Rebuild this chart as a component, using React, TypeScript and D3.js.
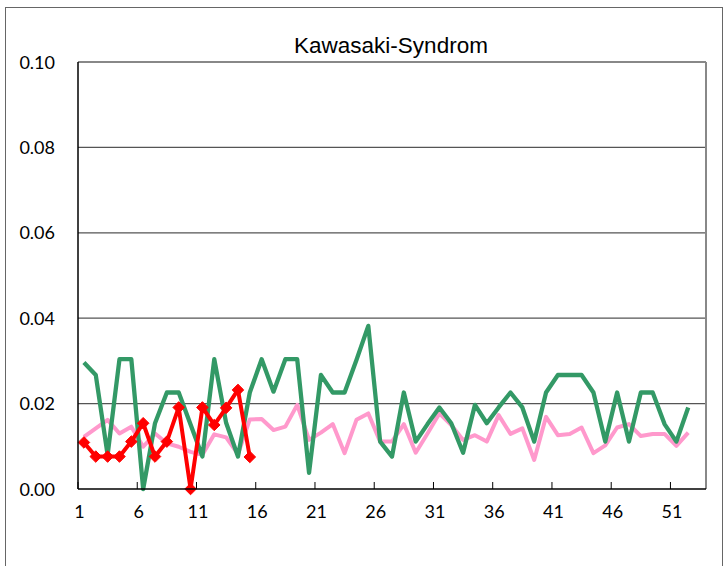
import React from "react";
import * as d3 from "d3";

const weeks = d3.range(1, 53);
const xTickLabels = [1, 6, 11, 16, 21, 26, 31, 36, 41, 46, 51];
const yTicks = [0, 0.02, 0.04, 0.06, 0.08, 0.1];

const pinkValues = [
  0.0122, 0.0142, 0.0162, 0.013, 0.0146, 0.0099, 0.013, 0.0107, 0.0099, 0.0087,
  0.008, 0.0128, 0.0121, 0.0082, 0.0163, 0.0164, 0.0138, 0.0146, 0.0197, 0.0115,
  0.0132, 0.0152, 0.0084, 0.0162, 0.0177, 0.0111, 0.0111, 0.0152, 0.0085, 0.013,
  0.0177, 0.015, 0.0115, 0.0126, 0.0111, 0.0173, 0.0129, 0.0142, 0.0068, 0.0169,
  0.0126, 0.0129, 0.0144, 0.0084, 0.0102, 0.0144, 0.0152, 0.0124, 0.0129, 0.0129,
  0.0101, 0.0132,
];

const greenValues = [
  0.0296, 0.0267, 0.008, 0.0304, 0.0304, 0.0, 0.0154, 0.0226, 0.0226, 0.0151,
  0.0076, 0.0304, 0.0155, 0.0076, 0.0226, 0.0304, 0.0228, 0.0304, 0.0304, 0.0038,
  0.0267, 0.0226, 0.0226, 0.0302, 0.0382, 0.0111, 0.0076, 0.0226, 0.0111, 0.0152,
  0.0191, 0.0154, 0.0085, 0.0197, 0.0154, 0.0191, 0.0226, 0.0191, 0.0111, 0.0226,
  0.0267, 0.0267, 0.0267, 0.0226, 0.0111, 0.0226, 0.0111, 0.0226, 0.0226, 0.0152,
  0.0111, 0.0191,
];

const redValues = [
  0.0109, 0.0076, 0.0076, 0.0076, 0.0111, 0.0154, 0.0076, 0.0111, 0.0191, 0.0,
  0.0191, 0.015, 0.019, 0.0232, 0.0075,
];

const W = 724;
const H = 566;
const plotLeft = 78;
const plotRight = 706;
const plotTop = 62;
const plotBottom = 489;
const nBands = 53;

export default function App() {
  const bandW = (plotRight - plotLeft) / nBands;
  const xTick = (k: number) => plotLeft + (k - 1) * bandW;
  const xPt = d3
    .scaleLinear()
    .domain([1, 2])
    .range([plotLeft + 0.5 * bandW, plotLeft + 1.5 * bandW]);
  const y = d3.scaleLinear().domain([0, 0.1]).range([plotBottom, plotTop]);

  const line = d3
    .line<number>()
    .x((_, i) => xPt(weeks[i]))
    .y((d) => y(d));

  const diamond = d3.symbol().type(d3.symbolDiamond2 ?? d3.symbolDiamond).size(85)();

  const font = "'Liberation Sans', Arial, sans-serif";
  const tickFont = "Lato, 'Open Sans', sans-serif";

  return (
    <svg
      width={W}
      height={H}
      style={{ position: "absolute", left: 0, top: 0, background: "#fff" }}
    >
      <rect x={5.5} y={7.5} width={717} height={570} fill="#fff" stroke="#666" strokeWidth={1} />
      <text
        x={(plotLeft + plotRight) / 2 - 1}
        y={53}
        textAnchor="middle"
        fontFamily={font}
        fontSize={22.5}
        fill="#000"
      >
        Kawasaki-Syndrom
      </text>

      {yTicks.slice(1, 5).map((t) => (
        <line
          key={"g" + t}
          x1={plotLeft}
          x2={plotRight}
          y1={y(t)}
          y2={y(t)}
          stroke="#555"
          strokeWidth={1.3}
        />
      ))}
      <line x1={plotLeft} x2={plotRight} y1={plotTop} y2={plotTop} stroke="#888" strokeWidth={2} />
      <line x1={plotRight} x2={plotRight} y1={plotTop} y2={plotBottom} stroke="#888" strokeWidth={2} />

      {yTicks.map((t) => (
        <text
          key={"yl" + t}
          x={55}
          y={y(t) + 6.5}
          textAnchor="end"
          fontFamily={tickFont}
          fontSize={18}
          fill="#000"
        >
          {t.toFixed(2)}
        </text>
      ))}

      {xTickLabels.map((k) => (
        <g key={"xt" + k}>
          <line x1={xTick(k)} x2={xTick(k)} y1={plotBottom} y2={plotBottom - 7} stroke="#000" strokeWidth={1} />
          <text
            x={xTick(k) + 1.5}
            y={plotBottom + 29}
            textAnchor="middle"
            fontFamily={tickFont}
            fontSize={18}
            fill="#000"
          >
            {k}
          </text>
        </g>
      ))}

      <path d={line(pinkValues) ?? ""} fill="none" stroke="#FF99CC" strokeWidth={4} strokeLinejoin="round" />
      <path d={line(greenValues) ?? ""} fill="none" stroke="#339966" strokeWidth={4.3} strokeLinejoin="round" />
      <path d={line(redValues) ?? ""} fill="none" stroke="#FF0000" strokeWidth={4} strokeLinejoin="round" />
      {redValues.map((v, i) => (
        <path
          key={"m" + i}
          d={diamond ?? ""}
          transform={`translate(${xPt(weeks[i])},${y(v)})`}
          fill="#FF0000"
          stroke="#FF0000"
          strokeWidth={1}
        />
      ))}

      <line x1={plotLeft} x2={plotLeft} y1={plotTop} y2={plotBottom} stroke="#000" strokeWidth={1.5} />
      <line x1={plotLeft} x2={plotRight} y1={plotBottom} y2={plotBottom} stroke="#000" strokeWidth={1.5} />
    </svg>
  );
}
